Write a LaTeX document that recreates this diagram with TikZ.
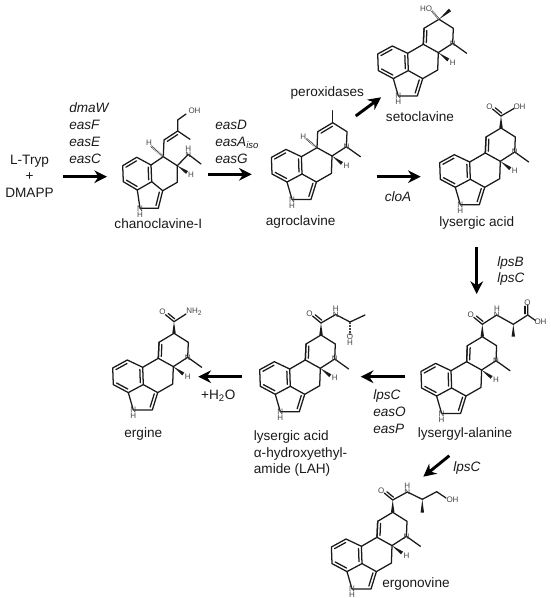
\documentclass[tikz,border=0pt]{standalone}
\usepackage{fontspec}
\setmainfont{Liberation Sans}
\usetikzlibrary{arrows.meta,calc}
\definecolor{BondBlack}{HTML}{1A1A1A}
\definecolor{AtomGray}{HTML}{444444}
\tikzset{
    % Reaction arrow
    rxnarrow/.style={
        -{Stealth[length=9.5pt,width=9.5pt]},
        line width=2.2pt,
        draw=black
    },
    % Plain bond
    bondline/.style={
        line width=0.95pt,
        draw=BondBlack,
        line cap=round,
        line join=round
    },
    % Hashed bond
    hashbond/.style={
        line width=1.6pt,
        draw=AtomGray,
        dash pattern=on 0.5pt off 0.6pt
    },
    % Atom letters in the structures
    atomlabel/.style={
        font=\fontsize{6}{6}\selectfont,
        text=AtomGray,
        inner sep=0pt
    },
    % Compound names
    nametext/.style={
        font=\fontsize{10.2}{12.6}\selectfont,
        text=BondBlack,
        inner sep=0pt,
        align=left
    },
    % Enzyme lists
    enzymetext/.style={
        font=\fontsize{10.2}{12.6}\selectfont\itshape,
        text=BondBlack,
        inner sep=0pt,
        align=left,
        anchor=west
    }
}
% second line of a double bond
\newcommand{\innerbond}[3]{\draw[bondline] ($(#1)!.12!(#2)!#3!90:(#2)$) -- ($(#2)!.12!(#1)!#3!-90:(#1)$);}
% solid wedge
\newcommand{\wedgebond}[2]{\fill[BondBlack] (#1) -- ($(#2)!1.3pt!90:(#1)$) -- ($(#2)!1.3pt!-90:(#1)$) -- cycle;}
% tetracyclic core, placed by its C8
\newcommand{\ergoring}[3]{
    \begin{scope}[shift={(#2,#3)}]
        \coordinate (#1-c8) at (0,0);
        \coordinate (#1-c7) at (14.3,9);
        \coordinate (#1-n6) at (13.7,24);
        \coordinate (#1-c5) at (-0.7,33.3);
        \coordinate (#1-c10) at (-15.7,25);
        \coordinate (#1-c9) at (-15,9);
        \coordinate (#1-c4) at (-1.3,50.7);
        \coordinate (#1-c3) at (-16.3,59.3);
        \coordinate (#1-bf) at (-31.3,34);
        \coordinate (#1-be) at (-30.7,51.3);
        \coordinate (#1-bd) at (-45.7,59.3);
        \coordinate (#1-bc) at (-60.7,51.3);
        \coordinate (#1-bb) at (-61.3,34.7);
        \coordinate (#1-ba) at (-46.7,26.7);
        \coordinate (#1-c2) at (-21.7,76.7);
        \coordinate (#1-n1) at (-40.7,76.7);
        \coordinate (#1-me) at (27.7,34);
        \coordinate (#1-hw) at (9.3,40.7);
        \coordinate (#1-hl) at (13.8,43.2);
        \coordinate (#1-h1) at (-40.7,82.7);
    \end{scope}
    \draw[bondline] (#1-c8) -- (#1-c7) -- (#1-n6) -- (#1-c5) -- (#1-c10) -- (#1-c9) -- cycle;
    \draw[bondline] (#1-c5) -- (#1-c4) -- (#1-c3) -- (#1-be);
    \draw[bondline] (#1-ba) -- (#1-bb) -- (#1-bc) -- (#1-bd) -- (#1-be) -- (#1-bf) -- cycle;
    \draw[bondline] (#1-bf) -- (#1-c10);
    \draw[bondline] (#1-c3) -- (#1-c2) -- (#1-n1) -- (#1-bd);
    \draw[bondline] (#1-n6) -- (#1-me);
    \innerbond{#1-ba}{#1-bb}{2.2pt}
    \innerbond{#1-bc}{#1-bd}{2.2pt}
    \innerbond{#1-be}{#1-bf}{2.2pt}
    \innerbond{#1-c3}{#1-c2}{-2.2pt}
    \wedgebond{#1-c5}{#1-hw}
    \node[atomlabel] (#1-nlabel) at (#1-n6) {N};
    \node[atomlabel] (#1-hlabel) at (#1-hl) {H};
    \node[atomlabel] (#1-n1label) at (#1-n1) {N};
    \node[atomlabel] (#1-h1label) at (#1-h1) {H};
}
% carbonyl on C8 (name, carbon)
\newcommand{\carbonyl}[2]{
    \coordinate (#1-cam) at ($(#1-c8)+(0,-#2)$);
    \coordinate (#1-oxy) at ($(#1-cam)+(-8.5,-7)$);
    \wedgebond{#1-cam}{#1-c8}
    \draw[bondline] (#1-cam) -- (#1-oxy);
    \innerbond{#1-cam}{#1-oxy}{-2pt}
    \node[atomlabel] (#1-olabel) at ($(#1-oxy)+(-3,-2.5)$) {O};
}
\begin{document}
\begin{tikzpicture}[x=0.75pt,y=-0.75pt]
        \useasboundingbox (0,0) rectangle (550,598);

        % Structures
        \ergoring{agro}{332.7}{122.7}
        \ergoring{seto}{439}{19.3}
        \ergoring{lys}{501}{128}
        \ergoring{alan}{482.3}{336.7}
        \ergoring{lah}{321}{335}
        \ergoring{erg}{174}{333.3}
        \ergoring{nov}{392.7}{512.3}

        % Double bonds of ring D
        \foreach \mol in {seto,lys,alan,lah,erg,nov}{
            \draw[bondline] (\mol-c10) -- (\mol-c9);
            \innerbond{\mol-c10}{\mol-c9}{-2.2pt}
        }
        \innerbond{agro-c8}{agro-c9}{2.2pt}

        % Agroclavine groups
        \coordinate (agro-top) at (332.7,110.7);
        \coordinate (agro-hd) at (306,138.5);
        \draw[bondline] (agro-c8) -- (agro-top);
        \draw[hashbond] (agro-c10) -- (agro-hd);
        \node[atomlabel] (agro-hdlabel) at (303.3,136.7) {H};

        % Setoclavine groups
        \coordinate (seto-me) at (450,10);
        \coordinate (seto-oh) at (431.7,10.7);
        \wedgebond{seto-c8}{seto-me}
        \draw[hashbond] (seto-c8) -- (seto-oh);
        \node[atomlabel] (seto-holabel) at (426,8.3) {HO};

        % Lysergic acid groups
        \carbonyl{lys}{12}
        \coordinate (lys-oh) at (514,108.5);
        \draw[bondline] (lys-cam) -- (lys-oh);
        \node[atomlabel] (lys-ohlabel) at (519.5,106.5) {OH};

        % Lysergyl-alanine groups
        \carbonyl{alan}{12.4}
        \coordinate (alan-nh) at (496.7,315);
        \coordinate (alan-ca) at (513.3,324.3);
        \coordinate (alan-me) at (513.3,336.7);
        \coordinate (alan-cc) at (527.7,315);
        \coordinate (alan-ox) at (527.7,305);
        \coordinate (alan-oh) at (535.5,320.5);
        \draw[bondline] (alan-cam) -- (alan-nh) -- (alan-ca) -- (alan-cc) -- (alan-ox);
        \draw[bondline] (alan-cc) -- (alan-oh);
        \innerbond{alan-cc}{alan-ox}{2pt}
        \wedgebond{alan-ca}{alan-me}
        \node[atomlabel] (alan-nlabel) at (alan-nh) {N};
        \node[atomlabel] (alan-hlabel) at (497,309) {H};
        \node[atomlabel] (alan-oxlabel) at (527.5,302.5) {O};
        \node[atomlabel] (alan-ohlabel) at (540.5,322) {OH};

        % LAH groups
        \carbonyl{lah}{12}
        \coordinate (lah-nh) at (335.7,314.5);
        \coordinate (lah-ca) at (350,322);
        \coordinate (lah-me) at (365,315);
        \coordinate (lah-oh) at (350,334);
        \draw[bondline] (lah-cam) -- (lah-nh) -- (lah-ca) -- (lah-me);
        \draw[hashbond] (lah-ca) -- (lah-oh);
        \node[atomlabel] (lah-nlabel) at (lah-nh) {N};
        \node[atomlabel] (lah-hlabel) at (335.7,308.5) {H};
        \node[atomlabel] (lah-olabel) at (350,336.5) {O};
        \node[atomlabel] (lah-h2label) at (350,342.5) {H};

        % Ergine groups
        \carbonyl{erg}{11.6}
        \coordinate (erg-nh) at (186,314);
        \draw[bondline] (erg-cam) -- (erg-nh);
        \node[atomlabel] (erg-nhlabel) at (194.3,311.5) {NH\textsubscript{2}};

        % Ergonovine groups
        \carbonyl{nov}{12.3}
        \coordinate (nov-nh) at (407.3,492);
        \coordinate (nov-ca) at (422.3,499.3);
        \coordinate (nov-me) at (422.3,512.7);
        \coordinate (nov-ch) at (436.7,491.7);
        \coordinate (nov-oh) at (446,498);
        \draw[bondline] (nov-cam) -- (nov-nh) -- (nov-ca) -- (nov-ch) -- (nov-oh);
        \wedgebond{nov-ca}{nov-me}
        \node[atomlabel] (nov-nlabel) at (nov-nh) {N};
        \node[atomlabel] (nov-hlabel) at (407.3,486) {H};
        \node[atomlabel] (nov-ohlabel) at (452.5,499.3) {OH};

        % Chanoclavine-I
        \coordinate (chano-ba) at (136.7,157.3);
        \coordinate (chano-bb) at (122.7,165.7);
        \coordinate (chano-bc) at (123.3,181.7);
        \coordinate (chano-bd) at (137.3,190);
        \coordinate (chano-be) at (151.7,181.7);
        \coordinate (chano-bf) at (151,165);
        \coordinate (chano-c10) at (163.3,156.7);
        \coordinate (chano-c5) at (177.3,165.7);
        \coordinate (chano-c4) at (177.3,182.3);
        \coordinate (chano-c3) at (162.7,190.7);
        \coordinate (chano-c2) at (158.3,208.3);
        \coordinate (chano-n1) at (140,208.3);
        \coordinate (chano-s1) at (164,140);
        \coordinate (chano-s2) at (177.7,131);
        \coordinate (chano-s3) at (177.7,120);
        \coordinate (chano-s4) at (186,114);
        \coordinate (chano-s5) at (190,139.3);
        \coordinate (chano-n) at (188.3,154.3);
        \coordinate (chano-me) at (201,164);
        \coordinate (chano-hd) at (151,146);
        \coordinate (chano-hw) at (187,172.5);
        \draw[bondline] (chano-ba) -- (chano-bb) -- (chano-bc) -- (chano-bd) -- (chano-be) -- (chano-bf) -- cycle;
        \draw[bondline] (chano-bf) -- (chano-c10) -- (chano-c5) -- (chano-c4) -- (chano-c3) -- (chano-be);
        \draw[bondline] (chano-c3) -- (chano-c2) -- (chano-n1) -- (chano-bd);
        \draw[bondline] (chano-c10) -- (chano-s1) -- (chano-s2) -- (chano-s3) -- (chano-s4);
        \draw[bondline] (chano-s2) -- (chano-s5);
        \draw[bondline] (chano-c5) -- (chano-n) -- (chano-me);
        \draw[hashbond] (chano-c10) -- (chano-hd);
        \wedgebond{chano-c5}{chano-hw}
        \innerbond{chano-ba}{chano-bb}{2.2pt}
        \innerbond{chano-bc}{chano-bd}{2.2pt}
        \innerbond{chano-be}{chano-bf}{2.2pt}
        \innerbond{chano-c3}{chano-c2}{-2.2pt}
        \innerbond{chano-s1}{chano-s2}{-2.2pt}
        \node[atomlabel] (chano-ohlabel) at (194.5,111) {OH};
        \node[atomlabel] (chano-nlabel) at (chano-n) {N};
        \node[atomlabel] (chano-hnlabel) at (188.3,148.3) {H};
        \node[atomlabel] (chano-hdlabel) at (149,143) {H};
        \node[atomlabel] (chano-hwlabel) at (191,175) {H};
        \node[atomlabel] (chano-n1label) at (chano-n1) {N};
        \node[atomlabel] (chano-h1label) at (140,214.3) {H};

        % Compound names
        \node[nametext, align=center] (start) at (29.5,176.3) {L-Tryp\\+\\DMAPP};
        \node[nametext] (chanoname) at (158.3,223.3) {chanoclavine-I};
        \node[nametext] (agroname) at (300.7,222.3) {agroclavine};
        \node[nametext] (setoname) at (420,116.7) {setoclavine};
        \node[nametext] (lysname) at (476.7,223.3) {lysergic acid};
        \node[nametext] (alanname) at (465,434.3) {lysergyl-alanine};
        \node[nametext] (lahname) at (300.5,453.5) {lysergic acid\\α-hydroxyethyl-\\amide (LAH)};
        \node[nametext] (ergname) at (143.3,434.3) {ergine};
        \node[nametext] (novname) at (416,584) {ergonovine};

        % Enzymes
        \node[enzymetext] (enz1) at (69,133) {dmaW\\easF\\easE\\easC};
        \node[enzymetext] (enz2) at (215,141.7) {easD\\easA\textsubscript{iso}\\easG};
        \node[nametext] (enz3) at (327.3,92.7) {peroxidases};
        \node[enzymetext] (enz4) at (384.5,196.7) {cloA};
        \node[enzymetext] (enz5) at (497,271) {lpsB\\lpsC};
        \node[enzymetext] (enz6) at (373,411.5) {lpsC\\easO\\easP};
        \node[enzymetext] (enz7) at (453,468.3) {lpsC};
        \node[nametext] (water) at (218.3,396) {+H\textsubscript{2}O};

        % Arrow ends
        \coordinate (a1s) at (63,176.7);
        \coordinate (a1e) at (107,176.7);
        \coordinate (a2s) at (207.7,174.3);
        \coordinate (a2e) at (251.7,174.3);
        \coordinate (a3s) at (355.7,116);
        \coordinate (a3e) at (381,97.3);
        \coordinate (a4s) at (376.7,176.7);
        \coordinate (a4e) at (420.7,176.7);
        \coordinate (a5s) at (476.7,247);
        \coordinate (a5e) at (476.7,294);
        \coordinate (a6s) at (405,376.7);
        \coordinate (a6e) at (360.7,376.7);
        \coordinate (a7s) at (242.3,376.7);
        \coordinate (a7e) at (198.3,376.7);
        \coordinate (a8s) at (449.3,455.7);
        \coordinate (a8e) at (423.3,476.7);

        % Arrows
        \foreach \arrownum in {1,...,8}{
            \draw[rxnarrow] (a\arrownum s) -- (a\arrownum e);
        }
    \end{tikzpicture}
\end{document}
